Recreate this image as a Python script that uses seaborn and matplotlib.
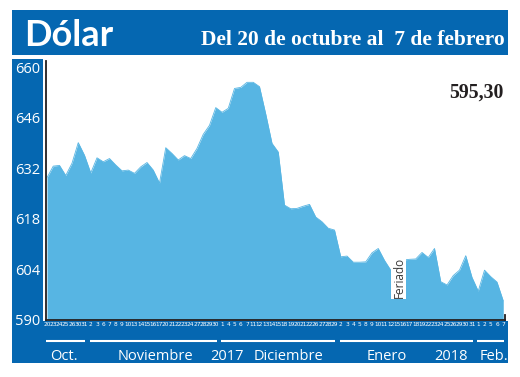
import numpy as np
import pandas as pd
import matplotlib
matplotlib.use("Agg")
import matplotlib.pyplot as plt
from matplotlib.patches import Rectangle
import seaborn as sns

# Daily quotes (pesos per dollar), 20 Oct 2017 - 7 Feb 2018
days = [20, 23, 24, 25, 26, 30, 31,
        2, 3, 6, 7, 8, 9, 10, 13, 14, 15, 16, 17, 20, 21, 22, 23, 24, 27, 28, 29, 30,
        1, 4, 5, 6, 7, 11, 12, 13, 14, 15, 18, 19, 20, 21, 22, 26, 27, 28, 29,
        2, 3, 4, 5, 8, 9, 10, 11, 12, 15, 16, 17, 18, 19, 22, 23, 24, 25, 26, 29, 30, 31,
        1, 2, 5, 6, 7]
values = [629.4, 632.6, 632.8, 630.0, 633.4, 639.1, 635.6,
          630.7, 634.9, 633.8, 634.7, 632.9, 631.3, 631.5, 630.6, 632.4, 633.6,
          631.5, 627.9, 637.7, 636.1, 634.3, 635.5, 634.7, 637.5, 641.4, 643.9, 648.8,
          647.5, 648.6, 654.1, 654.4, 655.8, 655.8, 654.6, 647.0, 638.9, 636.5,
          621.8, 620.8, 620.9, 621.5, 622.0, 618.5, 617.2, 615.4, 614.9,
          607.5, 607.7, 606.0, 606.0, 606.1, 608.6, 609.8, 606.5, 603.8, 604.0,
          606.6, 606.8, 606.9, 608.7, 607.3, 609.8, 600.6, 599.7, 602.3, 603.8,
          607.8, 601.8,
          598.0, 603.8, 602.0, 600.5, 595.3]
month_names = ["Oct.", "Noviembre", "Diciembre", "Enero", "Feb."]
month_sizes = [7, 21, 19, 22, 5]
year_labels = ["2017", "2018"]
yticks = [590, 604, 618, 632, 646, 660]
last_value = "595,30"

df = pd.DataFrame({"idx": np.arange(len(values)), "valor": values})

BLUE = "#0567b1"
AREA = "#57b5e3"
DARK = "#231f20"

sns.set_style("white")
plt.rcParams['font.family'] = ['Open Sans', 'DejaVu Sans']

fig = plt.figure(figsize=(5.2, 3.77), dpi=100)

# background in pixel coordinates
bg = fig.add_axes([0, 0, 1, 1])
bg.set_xlim(0, 520)
bg.set_ylim(377, 0)
bg.axis("off")
bg.add_patch(Rectangle((12, 9.5), 496, 45.5, color=BLUE, lw=0))
bg.add_patch(Rectangle((12, 59), 31, 304, color=BLUE, lw=0))
bg.add_patch(Rectangle((12, 320.5), 495.5, 42.5, color=BLUE, lw=0))
bg.text(24, 46, "Dólar", color="white", fontsize=26, fontweight="bold",
        family=["Lato", "DejaVu Sans"], va="baseline", ha="left")
bg.text(505, 45, "Del 20 de octubre al  7 de febrero", color="white", fontsize=15.5,
        fontweight="bold", family=["Liberation Serif", "DejaVu Serif"],
        va="baseline", ha="right")

# main chart
ax = fig.add_axes([46 / 520, (377 - 320) / 377, 459 / 520, 259 / 377])
ax.set_facecolor("white")
ax.fill_between(df["idx"], df["valor"], 590, color=AREA, lw=0, zorder=1)
sns.lineplot(data=df, x="idx", y="valor", ax=ax, color=AREA, lw=0.6, zorder=1.1)
ax.set_axisbelow(True)
ax.set_xlim(-0.16, 73.28)
ax.set_ylim(590, 661.7)
ax.set_xlabel("")
ax.set_ylabel("")

ax.spines["top"].set_visible(False)
for s in ["left", "bottom", "right"]:
    ax.spines[s].set_color(DARK)
    ax.spines[s].set_linewidth(1.3)
ax.spines["right"].set_bounds(590, 591.3)

ax.set_yticks(yticks)
ax.set_yticklabels([str(v) for v in yticks])
ax.tick_params(axis="y", direction="in", length=7.5, width=1.3, color=DARK,
               labelcolor="white", labelsize=10.5, pad=4.3)
ax.set_xticks(df["idx"])
ax.set_xticklabels([str(d) for d in days], fontsize=4.2,
                   family=["Liberation Sans Narrow", "DejaVu Sans"])
ax.tick_params(axis="x", length=0, labelcolor="white", pad=1.1)

ax.text(73.1, 651.5, last_value, ha="right", va="baseline", fontsize=14.3,
        fontweight="bold", color=DARK, family=["Liberation Serif", "DejaVu Serif"])

ax.text(56.3, 601.8, "Feriado", rotation=90, ha="center", va="center",
        fontsize=8.5, color="#3a3a3a", zorder=3,
        bbox=dict(facecolor="white", edgecolor="none", pad=0.8))

# month separators and names below the axis
xt = ax.get_xaxis_transform()
start = 0
for n in month_sizes:
    end = start + n - 1
    ax.plot([start - 0.15, min(end + 0.15, 73.3)], [-0.083, -0.083], color="white",
            lw=1.5, transform=xt, clip_on=False, solid_capstyle="butt")
    start += n
label_x = [2.72, 17.3, 38.6, 54.4, 71.6]
for name, xpos in zip(month_names, label_x):
    ax.text(xpos, -0.153, name, color="white", fontsize=10.5, ha="center",
            va="baseline", transform=xt, clip_on=False)
for name, xpos in zip(year_labels, [28.8, 64.6]):
    ax.text(xpos, -0.153, name, color="white", fontsize=10.5, ha="center",
            va="baseline", transform=xt, clip_on=False)

fig.savefig("out.png", dpi=100)
